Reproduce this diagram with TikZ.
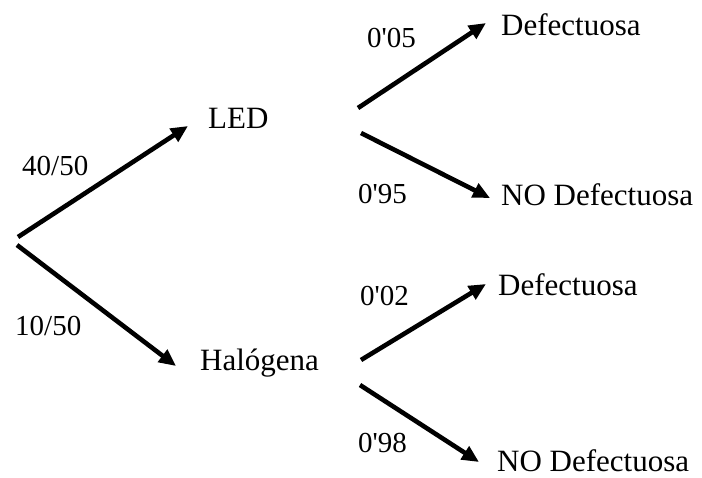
\documentclass[tikz,border=0pt]{standalone}
\usepackage{fontspec}
\newfontfamily\tnr{Liberation Serif}
\usetikzlibrary{arrows.meta}
\begin{document}
\begin{tikzpicture}[x=1pt,y=-1pt,
  lbl/.style={anchor=base west,inner sep=0pt,font=\tnr\fontsize{31}{36}\selectfont},
  prob/.style={anchor=base west,inner sep=0pt,font=\tnr\fontsize{29}{34}\selectfont},
  branch/.style={line width=4.6pt,-{Triangle[length=17pt,width=15pt]}}]
\useasboundingbox (0,0) rectangle (702,477);
% nodes
\node[lbl] (led) at (208,128) {LED};
\node[lbl] (hal) at (200,370) {Halógena};
\node[lbl] (d1) at (501,35) {Defectuosa};
\node[lbl] (n1) at (501,205) {NO Defectuosa};
\node[lbl] (d2) at (498,295) {Defectuosa};
\node[lbl] (n2) at (497,471) {NO Defectuosa};
% probability labels
\node[prob] (p1) at (22,175) {40/50};
\node[prob] (p2) at (15,335) {10/50};
\node[prob] (p3) at (367,47) {0'05};
\node[prob] (p4) at (358,203) {0'95};
\node[prob] (p5) at (360,305) {0'02};
\node[prob] (p6) at (358,452) {0'98};
% connector ends
\coordinate (r1) at (18,237);
\coordinate (r2) at (17,245);
\coordinate (e1) at (188,126);
\coordinate (e2) at (176,366);
\coordinate (l1) at (358,108);
\coordinate (l2) at (361,133);
\coordinate (f1) at (486,23);
\coordinate (f2) at (490,198);
\coordinate (h1) at (361,360);
\coordinate (h2) at (360,385);
\coordinate (g1) at (486,284);
\coordinate (g2) at (479,462);
% connectors
\draw[branch] (r1) -- (e1);
\draw[branch] (r2) -- (e2);
\draw[branch] (l1) -- (f1);
\draw[branch] (l2) -- (f2);
\draw[branch] (h1) -- (g1);
\draw[branch] (h2) -- (g2);
\end{tikzpicture}
\end{document}
